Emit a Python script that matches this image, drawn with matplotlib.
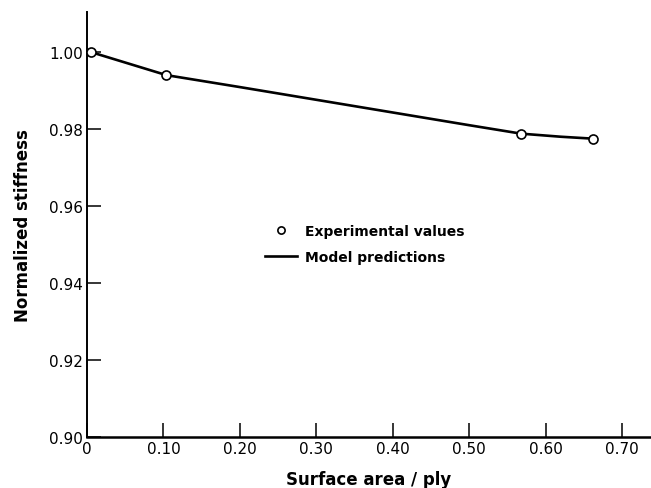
import matplotlib
matplotlib.use('Agg')
import matplotlib.pyplot as plt

# experimental points
exp_area = [0.005, 0.104, 0.568, 0.662]
exp_stiff = [1.000, 0.994, 0.9788, 0.9775]

# model curve
model_area = [0.005, 0.104, 0.20, 0.30, 0.40, 0.50, 0.568, 0.62, 0.662]
model_stiff = [1.000, 0.994, 0.9909, 0.9876, 0.9843, 0.9810, 0.9788, 0.9780, 0.9775]

xticks = [0, 0.1, 0.2, 0.3, 0.4, 0.5, 0.6, 0.7]
xtick_labels = ['0', '0.10', '0.20', '0.30', '0.40', '0.50', '0.60', '0.70']
yticks = [0.90, 0.92, 0.94, 0.96, 0.98, 1.00]
ytick_labels = ['0.90', '0.92', '0.94', '0.96', '0.98', '1.00']

plt.rcParams['font.family'] = ['DejaVu Sans']

fig = plt.figure(figsize=(6.51, 4.89), dpi=100)
ax = fig.add_axes([0.1336, 0.1043, 0.8664, 0.8691])

ax.plot(model_area, model_stiff, color='black', lw=1.9, label='Model predictions', zorder=2)
ax.plot(exp_area, exp_stiff, 'o', ms=6.5, mfc='white', mec='black', mew=1.2,
        label='Experimental values', zorder=3, clip_on=False)

ax.set_xlim(0, 0.738)
ax.set_ylim(0.90, 1.0104)

ax.set_xticks(xticks)
ax.set_xticklabels(xtick_labels)
ax.set_yticks(yticks)
ax.set_yticklabels(ytick_labels)
ax.tick_params(direction='in', length=10, width=1.1, labelsize=11, pad=3)

for s in ['top', 'right']:
    ax.spines[s].set_visible(False)
ax.spines['left'].set_linewidth(1.4)
ax.spines['bottom'].set_linewidth(1.8)

ax.set_xlabel('Surface area / ply', fontsize=12, fontweight='bold', labelpad=10)
ax.set_ylabel('Normalized stiffness', fontsize=12, fontweight='bold', labelpad=12)

handles, labels = ax.get_legend_handles_labels()
leg = ax.legend(handles[::-1], labels[::-1], loc='upper left',
                bbox_to_anchor=(265 / 651, 1 - 225 / 489), bbox_transform=fig.transFigure,
                frameon=False, prop={'weight': 'bold', 'size': 10},
                handlelength=2.3, handletextpad=0.6, labelspacing=0.85, borderpad=0,
                borderaxespad=0, markerscale=0.8)

fig.savefig('out.png', dpi=100)
